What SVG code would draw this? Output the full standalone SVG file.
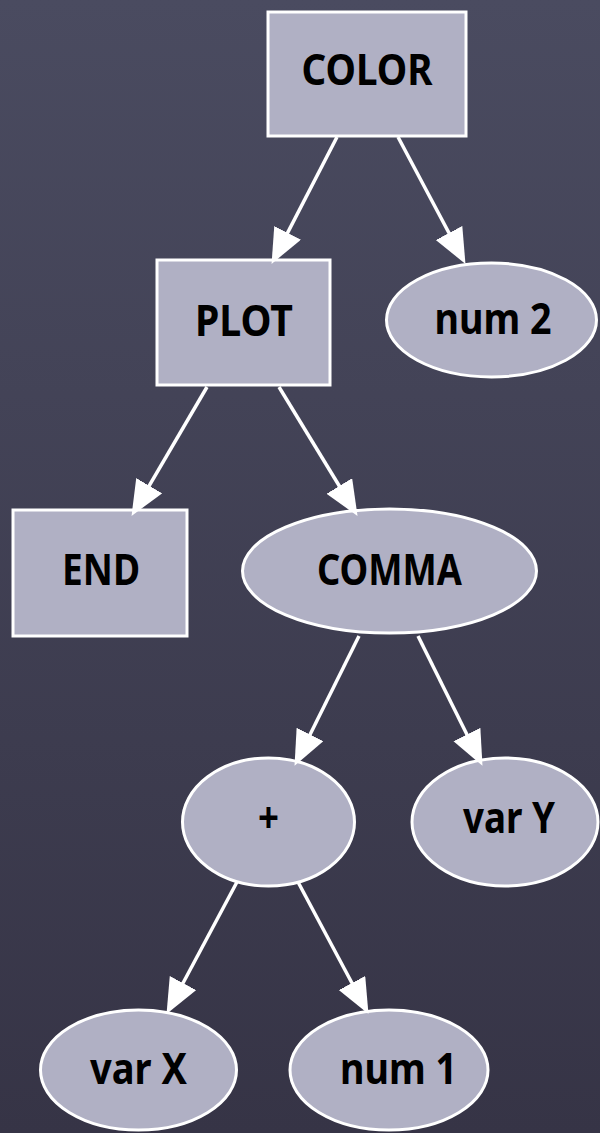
<svg xmlns="http://www.w3.org/2000/svg" width="600" height="1133" viewBox="0 0 600 1133">
<defs>
<linearGradient id="bg" x1="0" y1="0" x2="0" y2="1">
<stop offset="0" stop-color="#4a4b60"/>
<stop offset="1" stop-color="#363446"/>
</linearGradient>
<marker id="arr" markerUnits="userSpaceOnUse" markerWidth="38" markerHeight="32" refX="24" refY="15" orient="auto">
<path d="M0,0 L35,15 L0,30 Z" fill="#ffffff"/>
</marker>
</defs>
<style>
.n{fill:#b0b0c4;stroke:#ffffff;stroke-width:3}
.t{font-family:"Noto Sans","Open Sans","Liberation Sans",sans-serif;font-weight:bold;font-size:43px;fill:#000;text-anchor:middle}
.e{stroke:#ffffff;stroke-width:3.5;fill:none;marker-end:url(#arr)}
</style>
<rect width="600" height="1133" fill="url(#bg)"/>
<g id="COLOR"><rect class="n" x="268" y="12" width="198" height="124"/><text class="t" x="367" y="85" textLength="131" lengthAdjust="spacingAndGlyphs">COLOR</text></g>
<g id="PLOT"><rect class="n" x="157" y="260" width="173" height="125"/><text class="t" x="244" y="336" textLength="98" lengthAdjust="spacingAndGlyphs">PLOT</text></g>
<g id="num2"><ellipse class="n" cx="491.5" cy="320" rx="105" ry="57"/><text class="t" x="493" y="334" textLength="117" lengthAdjust="spacingAndGlyphs">num 2</text></g>
<g id="END"><rect class="n" x="13" y="510" width="174" height="126"/><text class="t" x="101" y="585" textLength="78" lengthAdjust="spacingAndGlyphs">END</text></g>
<g id="COMMA"><ellipse class="n" cx="389.5" cy="571" rx="147" ry="62"/><text class="t" x="389.5" y="585" textLength="145" lengthAdjust="spacingAndGlyphs">COMMA</text></g>
<g id="plus"><ellipse class="n" cx="268.5" cy="822" rx="86" ry="64"/><text class="t" x="268.5" y="833" textLength="21" lengthAdjust="spacingAndGlyphs">+</text></g>
<g id="varY"><ellipse class="n" cx="505" cy="822" rx="93" ry="64"/><text class="t" x="509" y="833" textLength="92" lengthAdjust="spacingAndGlyphs">var Y</text></g>
<g id="varX"><ellipse class="n" cx="138.5" cy="1070" rx="98" ry="60"/><text class="t" x="138.5" y="1084" textLength="97" lengthAdjust="spacingAndGlyphs">var X</text></g>
<g id="num1"><ellipse class="n" cx="389" cy="1070" rx="99" ry="60"/><text class="t" x="398.5" y="1084" textLength="117" lengthAdjust="spacingAndGlyphs">num 1</text></g>
<g id="connectors">
<line class="e" x1="337" y1="137" x2="276.6" y2="254.1"/>
<line class="e" x1="398" y1="137" x2="460.3" y2="254.2"/>
<line class="e" x1="207" y1="387" x2="137.1" y2="506.4"/>
<line class="e" x1="279" y1="387" x2="351.8" y2="506.5"/>
<line class="e" x1="359" y1="636" x2="299.4" y2="756"/>
<line class="e" x1="418" y1="636" x2="477.6" y2="756"/>
<line class="e" x1="237" y1="882" x2="171.7" y2="1004.2"/>
<line class="e" x1="298" y1="882" x2="363.3" y2="1004.2"/>
</g>
</svg>
